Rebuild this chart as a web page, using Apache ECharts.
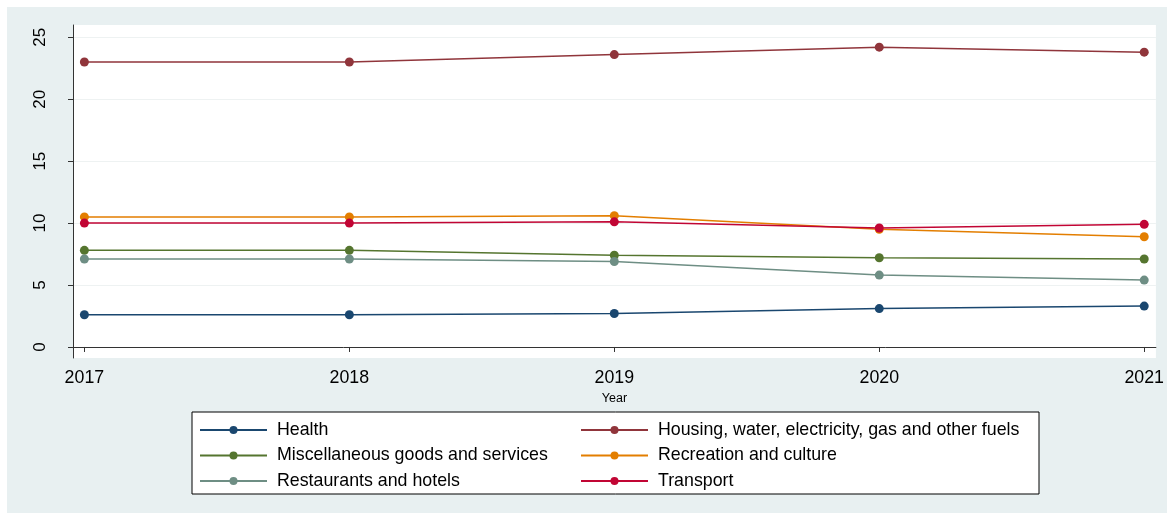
<!DOCTYPE html>
<html>
<head>
<meta charset="utf-8">
<script src="https://cdn.jsdelivr.net/npm/echarts@6/dist/echarts.min.js"></script>
<style>
  html, body { margin: 0; padding: 0; background: #ffffff; }
  #wrap { position: relative; width: 1167px; height: 513px; background: #ffffff; overflow: hidden; }
  #chart { position: absolute; left: 7px; top: 7px; width: 1160px; height: 506px; }
</style>
</head>
<body>
<div id="wrap"><div id="chart"></div></div>
<script>
// Household spending shares by category, 2017-2021
const years = [2017, 2018, 2019, 2020, 2021];
const yTicks = [0, 5, 10, 15, 20, 25];

const health       = [2.6, 2.6, 2.7, 3.1, 3.3];
const housing      = [23.0, 23.0, 23.6, 24.2, 23.8];
const misc         = [7.8, 7.8, 7.4, 7.2, 7.1];
const recreation   = [10.5, 10.5, 10.6, 9.5, 8.9];
const restaurants  = [7.1, 7.1, 6.9, 5.8, 5.4];
const transport    = [10.0, 10.0, 10.1, 9.6, 9.9];

const seriesDefs = [
  { name: 'Health', values: health, color: '#1a476f' },
  { name: 'Housing, water, electricity, gas and other fuels', values: housing, color: '#90353b' },
  { name: 'Miscellaneous goods and services', values: misc, color: '#55752f' },
  { name: 'Recreation and culture', values: recreation, color: '#e37e00' },
  { name: 'Restaurants and hotels', values: restaurants, color: '#6e8e84' },
  { name: 'Transport', values: transport, color: '#c10534' }
];

const FONT = '"Liberation Sans", Arial, Helvetica, sans-serif';

const chart = echarts.init(document.getElementById('chart'), null, { renderer: 'canvas' });

const legendCommon = {
  orient: 'vertical',
  top: 409,
  itemWidth: 67,
  itemHeight: 10,
  itemGap: 7.5,
  selectedMode: false,
  textStyle: { color: '#000000', fontSize: 17.8, fontFamily: FONT, lineHeight: 16, padding: [0, 0, 0, 5] }
};

chart.setOption({
  animation: false,
  backgroundColor: '#e8f0f1',
  textStyle: { fontFamily: FONT },
  grid: {
    left: 66, top: 18, right: 9, bottom: 155,
    show: true, backgroundColor: '#ffffff', borderWidth: 0
  },
  graphic: [{
    type: 'rect',
    shape: { x: 185, y: 405, width: 847, height: 82 },
    style: { fill: '#ffffff', stroke: '#000000', lineWidth: 1 },
    z: 0, silent: true
  }],
  legend: [
    Object.assign({}, legendCommon, {
      left: 187,
      data: ['Health', 'Miscellaneous goods and services', 'Restaurants and hotels']
    }),
    Object.assign({}, legendCommon, {
      left: 568,
      data: ['Housing, water, electricity, gas and other fuels', 'Recreation and culture', 'Transport']
    })
  ],
  xAxis: {
    type: 'value',
    min: 2016.957,
    max: 2021.044,
    name: 'Year',
    nameLocation: 'middle',
    nameGap: 30,
    nameTextStyle: { color: '#000000', fontSize: 12.5, fontFamily: FONT },
    axisLine: { show: true, lineStyle: { color: '#333333', width: 1 } },
    axisTick: { show: true, inside: false, length: 5, customValues: years, lineStyle: { color: '#333333' } },
    axisLabel: {
      customValues: years, margin: 11, color: '#000000', fontSize: 17.8, fontFamily: FONT,
      formatter: v => String(Math.round(v))
    },
    splitLine: { show: false }
  },
  yAxis: {
    type: 'value',
    min: -0.89,
    max: 25.99,
    axisLine: { show: true, lineStyle: { color: '#333333', width: 1 } },
    axisTick: { show: true, inside: false, length: 5, customValues: yTicks, lineStyle: { color: '#333333' } },
    axisLabel: {
      customValues: yTicks, rotate: 90, margin: 24, color: '#000000', fontSize: 17, fontFamily: FONT
    },
    splitLine: { show: true, lineStyle: { color: '#eef2f2', width: 1.2 } }
  },
  series: seriesDefs.map(s => ({
    type: 'line',
    name: s.name,
    data: years.map((y, i) => [y, s.values[i]]),
    symbol: 'circle',
    symbolSize: 9,
    showSymbol: true,
    color: s.color,
    lineStyle: { color: s.color, width: 1.5 },
    itemStyle: { color: s.color },
    emphasis: { disabled: true }
  }))
});
</script>
</body>
</html>
